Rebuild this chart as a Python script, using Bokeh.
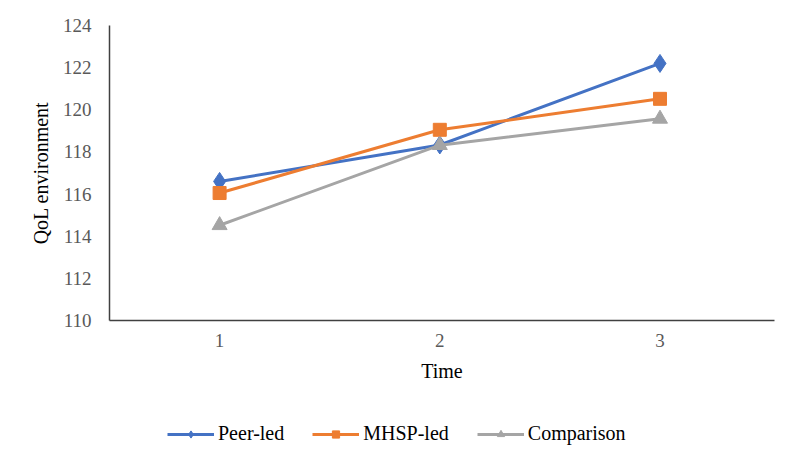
from bokeh.plotting import figure
from bokeh.models import Range1d, FixedTicker, Legend, LegendItem
from bokeh.layouts import column
from bokeh.embed import file_html
from bokeh.resources import INLINE

time = [1, 2, 3]
peer_led = [116.6, 118.33, 122.2]
mhsp_led = [116.05, 119.05, 120.52]
comparison = [114.52, 118.32, 119.57]
y_ticks = [110, 112, 114, 116, 118, 120, 122, 124]
names = ["Peer-led", "MHSP-led", "Comparison"]

FONT = "Liberation Serif"
LFONT = "'Liberation Serif', serif"
styles = [("#4472C4", "diamond", 18, 12),
          ("#ED7D31", "square", 13, 10),
          ("#A5A5A5", "triangle", 15, 11)]

p = figure(width=784, height=395, output_backend="svg", toolbar_location=None,
           x_range=Range1d(0.5, 3.52), y_range=Range1d(110, 124),
           min_border_left=109, min_border_right=10, min_border_top=25, min_border_bottom=75)
p.outline_line_color = None
p.grid.grid_line_color = None

for name, vals, (col, marker, size, _) in zip(names, [peer_led, mhsp_led, comparison], styles):
    p.line(time, vals, line_color=col, line_width=3)
    p.scatter(time, vals, marker=marker, size=size, fill_color=col, line_color=col)

for ax in (p.xaxis[0], p.yaxis[0]):
    ax.axis_line_color = "#404040"
    ax.axis_line_width = 1.5
    ax.major_tick_line_color = None
    ax.minor_tick_line_color = None
    ax.major_label_text_font = FONT
    ax.major_label_text_font_size = "19px"
    ax.major_label_text_color = "#595959"
    ax.axis_label_text_font = FONT
    ax.axis_label_text_font_size = "20px"
    ax.axis_label_text_font_style = "normal"
    ax.axis_label_text_color = "#000000"

p.xaxis.ticker = FixedTicker(ticks=time)
p.yaxis.ticker = FixedTicker(ticks=y_ticks)
p.xaxis.axis_label = "Time"
p.yaxis.axis_label = "QoL environment"
p.xaxis.major_label_standoff = 7
p.xaxis.axis_label_standoff = 10
p.yaxis.major_label_standoff = 12
p.yaxis.axis_label_standoff = 8

# legend strip below the chart
lg = figure(width=784, height=60, output_backend="svg", toolbar_location=None,
            x_range=Range1d(0, 1), y_range=Range1d(0, 1),
            x_axis_type=None, y_axis_type=None,
            min_border_left=0, min_border_right=0, min_border_top=0, min_border_bottom=0)
lg.outline_line_color = None
lg.grid.grid_line_color = None
items = []
for name, (col, marker, size, lsize) in zip(names, styles):
    r1 = lg.line([5, 6], [5, 5], line_color=col, line_width=3)
    r2 = lg.scatter([5.5], [5], marker=marker, size=lsize, fill_color=col, line_color=col)
    items.append(LegendItem(label=name, renderers=[r1, r2]))

legend = Legend(items=items, orientation="horizontal", location=(58, 10),
                label_text_font=LFONT, label_text_font_size="20px",
                label_text_color="#000000", glyph_width=47, glyph_height=18,
                spacing=28, border_line_color=None, background_fill_alpha=0,
                margin=0, padding=0, label_standoff=4)
lg.add_layout(legend, "center")

layout = column(p, lg, spacing=0)
open("out.html", "w").write(file_html(layout, INLINE))
